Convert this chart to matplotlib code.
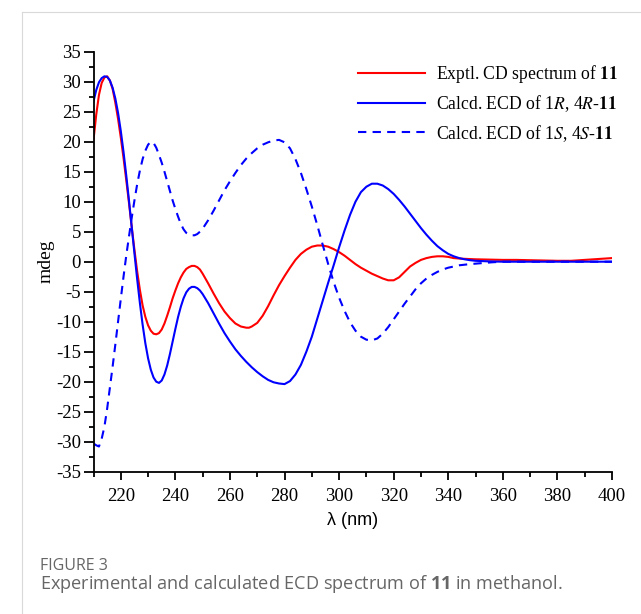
import matplotlib
matplotlib.use("Agg")
import matplotlib.pyplot as plt
from matplotlib.ticker import MultipleLocator

plt.rcParams['font.family'] = ['Liberation Serif', 'DejaVu Serif']
plt.rcParams['axes.unicode_minus'] = False
plt.rcParams['mathtext.fontset'] = 'custom'
plt.rcParams['mathtext.rm'] = 'Open Sans'
plt.rcParams['mathtext.bf'] = 'Open Sans:bold'
plt.rcParams['mathtext.it'] = 'Open Sans:italic'

# ---- data (wavelength nm, mdeg) ----
wl_exp = [210, 211, 212, 213, 214, 215, 216, 217, 218, 219, 220, 221, 222, 223, 224,
          225, 226, 227, 228, 229, 230, 231, 232, 233, 234, 235, 236, 237, 238, 239,
          240, 241, 242, 243, 244, 245, 246, 247, 248, 249, 250, 252, 254, 256, 258,
          260, 262, 264, 266, 267, 268, 270, 272, 274, 276, 278, 280, 282, 284, 286,
          288, 290, 292, 294, 296, 298, 300, 302, 304, 306, 308, 310, 312, 314, 316,
          318, 320, 322, 324, 326, 328, 330, 332, 334, 336, 338, 340, 342, 345, 350,
          355, 360, 365, 370, 375, 380, 385, 390, 395, 400]
cd_exp = [20.3, 24.5, 27.8, 29.8, 30.7, 30.9, 30.2, 28.8, 26.5, 23.8, 20.7, 17.3, 13.6, 9.8, 5.8,
          2.0, -1.6, -4.7, -7.3, -9.2, -10.6, -11.5, -12.0, -12.1, -11.9, -11.3, -10.3, -9.0, -7.6, -6.1,
          -4.8, -3.6, -2.6, -1.8, -1.2, -0.9, -0.7, -0.7, -0.9, -1.3, -2.0, -3.6, -5.3, -6.9, -8.3,
          -9.4, -10.3, -10.8, -11.0, -11.0, -10.8, -10.2, -9.0, -7.4, -5.6, -3.9, -2.4, -1.0, 0.3, 1.3,
          2.0, 2.5, 2.7, 2.7, 2.5, 2.1, 1.6, 1.0, 0.3, -0.4, -1.0, -1.5, -2.0, -2.4, -2.8,
          -3.1, -3.1, -2.6, -1.7, -0.8, -0.2, 0.3, 0.6, 0.8, 0.9, 0.9, 0.8, 0.6, 0.5, 0.4,
          0.35, 0.3, 0.3, 0.25, 0.2, 0.15, 0.15, 0.3, 0.45, 0.6]

wl_rr = [210, 211, 212, 213, 214, 215, 216, 217, 218, 219, 220, 221, 222, 223, 224,
         225, 226, 227, 228, 229, 230, 231, 232, 233, 234, 235, 236, 237, 238, 239,
         240, 241, 242, 243, 244, 245, 246, 247, 248, 249, 250, 252, 254, 256, 258,
         260, 262, 264, 266, 268, 270, 272, 274, 276, 278, 280, 282, 284, 286, 288,
         290, 292, 294, 296, 298, 300, 302, 304, 306, 308, 310, 312, 314, 316, 318,
         320, 322, 324, 326, 328, 330, 332, 334, 336, 338, 340, 342, 344, 346, 348,
         350, 355, 360, 400]
cd_rr = [26.7, 28.6, 29.9, 30.6, 30.9, 30.8, 30.2, 29.0, 27.2, 24.8, 21.8, 18.3, 14.4, 10.2, 5.8,
         1.4, -2.9, -6.9, -10.5, -13.6, -16.1, -18.0, -19.3, -20.0, -20.2, -19.8, -18.8, -17.3, -15.4, -13.3,
         -11.2, -9.2, -7.5, -6.1, -5.1, -4.5, -4.2, -4.2, -4.4, -4.8, -5.4, -6.9, -8.6, -10.3, -11.9,
         -13.3, -14.6, -15.7, -16.7, -17.6, -18.4, -19.1, -19.7, -20.1, -20.3, -20.4, -19.9, -18.8, -17.2, -15.0,
         -12.5, -9.5, -6.5, -3.5, -0.6, 2.4, 5.2, 7.8, 10.0, 11.6, 12.5, 13.0, 13.0, 12.7, 12.1,
         11.3, 10.3, 9.2, 8.0, 6.8, 5.6, 4.5, 3.5, 2.6, 1.9, 1.3, 0.9, 0.6, 0.4, 0.25,
         0.15, 0.05, 0.0, 0.0]

wl_ss = [210, 211, 212, 213, 214, 215, 216, 217, 218, 219, 220, 221, 222, 223, 224,
         225, 226, 227, 228, 229, 230, 231, 232, 233, 234, 235, 236, 237, 238, 239,
         240, 241, 242, 243, 244, 245, 246, 247, 248, 249, 250, 252, 254, 256, 258,
         260, 262, 264, 266, 268, 270, 272, 274, 276, 278, 280, 282, 284, 286, 288,
         290, 292, 294, 296, 298, 300, 302, 304, 306, 308, 310, 312, 314, 316, 318,
         320, 322, 324, 326, 328, 330, 332, 334, 336, 338, 340, 344, 348, 352, 356,
         360, 400]
cd_ss = [-30.3, -30.6, -30.8, -29.5, -27.5, -24.5, -21.0, -17.5, -13.8, -10.0, -6.2, -2.5, 1.0, 4.2, 7.3,
         10.2, 12.9, 15.2, 17.1, 18.5, 19.5, 20.0, 19.8, 19.0, 17.8, 16.5, 15.0, 13.4, 11.8, 10.2,
         8.8, 7.5, 6.3, 5.4, 4.8, 4.5, 4.4, 4.4, 4.6, 5.0, 5.5, 6.9, 8.5, 10.2, 11.9,
         13.4, 14.8, 16.1, 17.2, 18.1, 18.9, 19.5, 19.9, 20.2, 20.3, 19.9, 18.9, 17.1, 14.8, 12.1,
         9.2, 6.1, 2.8, -0.4, -3.4, -6.0, -8.2, -10.1, -11.5, -12.5, -13.0, -13.1, -12.8, -12.0, -10.9,
         -9.6, -8.3, -7.0, -5.8, -4.6, -3.6, -2.8, -2.2, -1.7, -1.3, -1.0, -0.6, -0.4, -0.25, -0.1,
         0.0, 0.0]

labels = [r"Exptl. CD spectrum of $\mathbf{11}$",
          r"Calcd. ECD of 1$\mathit{R}$, 4$\mathit{R}$-$\mathbf{11}$",
          r"Calcd. ECD of 1$\mathit{S}$, 4$\mathit{S}$-$\mathbf{11}$"]

# ---- figure ----
W, H = 641, 614
fig = plt.figure(figsize=(W / 100, H / 100), dpi=100)
ax = fig.add_axes([93.5 / W, 1 - 471.7 / H, (612 - 93.5) / W, (471.7 - 51.7) / H])

ax.plot(wl_exp, cd_exp, color='#ff0000', lw=1.5, label=labels[0])
ax.plot(wl_rr, cd_rr, color='#0000ff', lw=1.5, label=labels[1])
ax.plot(wl_ss, cd_ss, color='#0000ff', lw=1.5, ls=(0, (4, 3)), label=labels[2])

ax.set_xlim(210, 400)
ax.set_ylim(-35, 35)
ax.xaxis.set_major_locator(MultipleLocator(20))
ax.xaxis.set_minor_locator(MultipleLocator(10))
ax.yaxis.set_major_locator(MultipleLocator(5))
ax.yaxis.set_minor_locator(MultipleLocator(2.5))
ax.set_xticks(range(220, 401, 20))

for s in ['top', 'right']:
    ax.spines[s].set_visible(False)
for s in ['left', 'bottom']:
    ax.spines[s].set_linewidth(1.3)
ax.tick_params(axis='both', which='major', direction='out', width=1.3, labelsize=13.5, pad=2)
ax.tick_params(axis='y', which='major', length=7)
ax.tick_params(axis='x', which='major', length=6, pad=6)
ax.tick_params(axis='both', which='minor', direction='out', width=1.3, length=3.5)

ax.set_ylabel('mdeg', fontsize=14, labelpad=1)
ax.set_xlabel('λ (nm)', fontsize=13, family=['Liberation Sans', 'DejaVu Sans'], labelpad=5)

leg = ax.legend(loc='upper left', bbox_to_anchor=(358 / W, 1 - 63 / H),
                bbox_transform=fig.transFigure, frameon=False, fontsize=12.7,
                handlelength=3.8, handletextpad=0.65, labelspacing=0.48,
                borderpad=0, borderaxespad=0)
for t in leg.get_texts():
    t.set_math_fontfamily('stix')

# caption and page frame
fig.add_artist(plt.Line2D([22 / W, 22 / W], [0, 1 - 12 / H], color='#d9d9d9', lw=0.8))
fig.add_artist(plt.Line2D([22 / W, 1], [1 - 12 / H, 1 - 12 / H], color='#d9d9d9', lw=0.8))
fig.text(40 / W, 1 - 566 / H, 'FIGURE 3', fontsize=11.5, color='#666666',
         family=['Open Sans', 'DejaVu Sans'], va='center', ha='left')
fig.text(40 / W, 1 - 584 / H, r"Experimental and calculated ECD spectrum of $\mathbf{11}$ in methanol.",
         fontsize=13.1, color='#666666', family=['Open Sans', 'DejaVu Sans'],
         va='center', ha='left', math_fontfamily='custom')

fig.savefig('out.png', dpi=100)
